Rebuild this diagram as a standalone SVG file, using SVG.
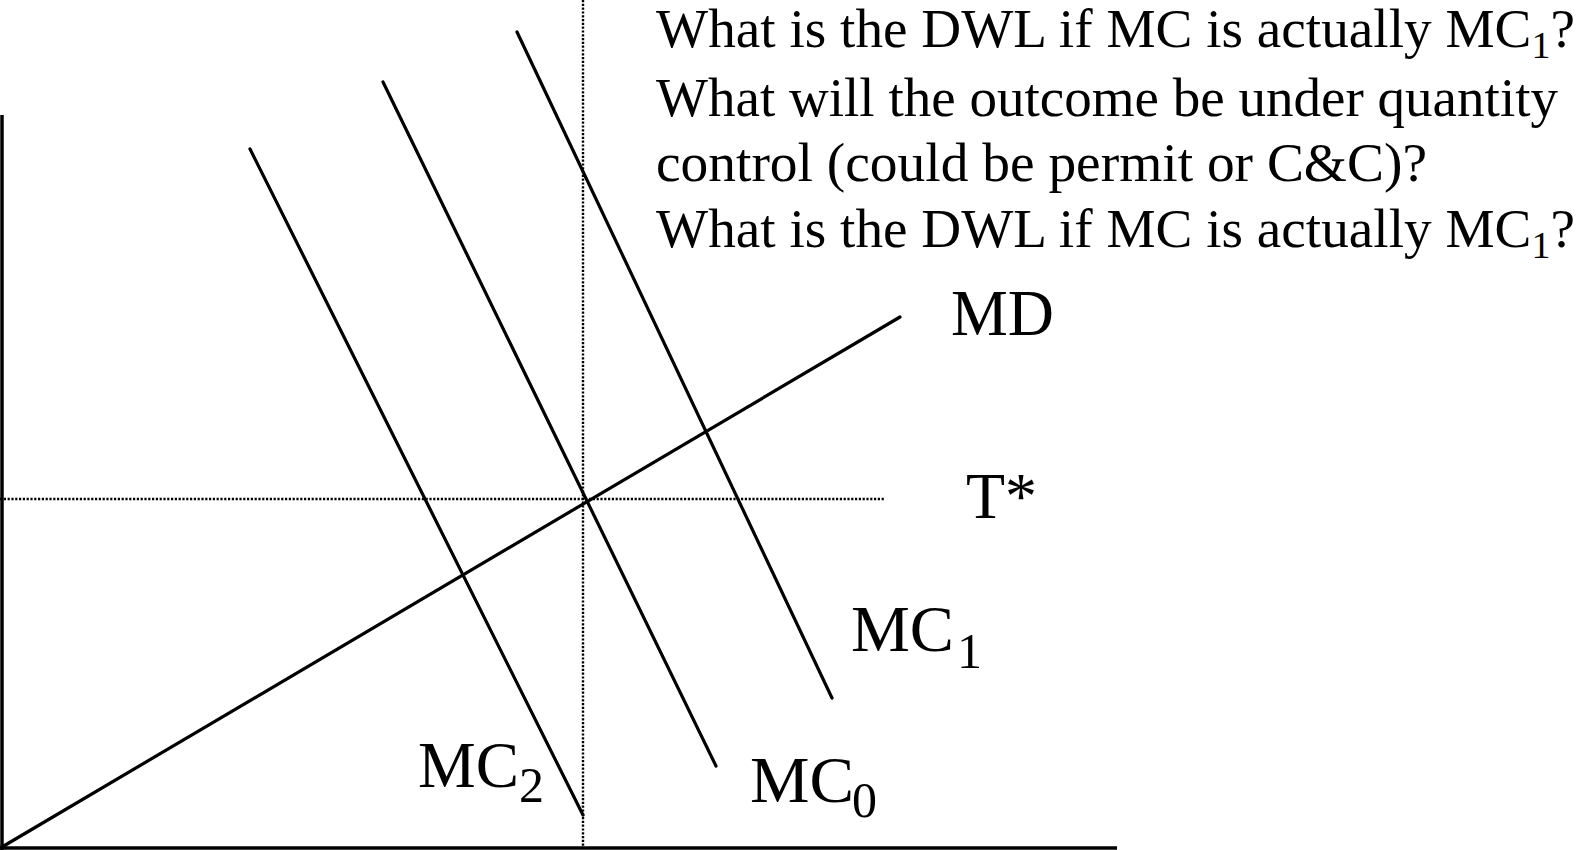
<svg xmlns="http://www.w3.org/2000/svg" width="1578" height="850" viewBox="0 0 1578 850">
<style>
.ax{stroke:#000;stroke-width:3.5;fill:none}
.ln{stroke:#000;stroke-width:3.2;fill:none;stroke-linecap:round}
.dot{stroke:#000;stroke-width:2.4;fill:none;stroke-dasharray:2.2 1.6}
text{font-family:"Liberation Serif","Times New Roman",serif;fill:#000}
.q{font-size:55px}
.lb{font-size:66px}
.sb{font-size:50px}
</style>
<rect width="1578" height="850" fill="#fff"/>
<g id="axes">
<line class="ax" x1="2" y1="115" x2="2" y2="850"/>
<line class="ax" x1="0" y1="848" x2="1117" y2="848"/>
</g>
<g id="guides">
<line class="dot" x1="583" y1="0" x2="583" y2="848"/>
<line class="dot" x1="0" y1="499" x2="885" y2="499"/>
</g>
<g id="connectors">
<line id="MD-line" class="ln" x1="2" y1="847" x2="900" y2="317"/>
<line id="MC0-line" class="ln" x1="383" y1="82" x2="716" y2="766"/>
<line id="MC1-line" class="ln" x1="517" y1="32" x2="832" y2="698"/>
<line id="MC2-line" class="ln" x1="250" y1="149" x2="583" y2="815"/>
</g>
<g id="label-MD"><text class="lb" x="951" y="335" textLength="103" lengthAdjust="spacingAndGlyphs">MD</text></g>
<g id="label-T"><text class="lb" x="966" y="518" textLength="71" lengthAdjust="spacingAndGlyphs">T*</text></g>
<g id="label-MC1"><text class="lb" x="851" y="651" textLength="103" lengthAdjust="spacingAndGlyphs">MC</text><text class="sb" x="957" y="668">1</text></g>
<g id="label-MC2"><text class="lb" x="418" y="787" textLength="101" lengthAdjust="spacingAndGlyphs">MC</text><text class="sb" x="519" y="802">2</text></g>
<g id="label-MC0"><text class="lb" x="750" y="802" textLength="104" lengthAdjust="spacingAndGlyphs">MC</text><text class="sb" x="852" y="817">0</text></g>
<g id="questions">
<text class="q" x="656" y="47" textLength="919" lengthAdjust="spacingAndGlyphs">What is the DWL if MC is actually MC<tspan font-size="38" dy="11">1</tspan><tspan dy="-11">?</tspan></text>
<text class="q" x="656" y="116" textLength="902" lengthAdjust="spacingAndGlyphs">What will the outcome be under quantity</text>
<text class="q" x="656" y="181" textLength="771" lengthAdjust="spacingAndGlyphs">control (could be permit or C&amp;C)?</text>
<text class="q" x="656" y="247" textLength="919" lengthAdjust="spacingAndGlyphs">What is the DWL if MC is actually MC<tspan font-size="38" dy="11">1</tspan><tspan dy="-11">?</tspan></text>
</g>
</svg>
